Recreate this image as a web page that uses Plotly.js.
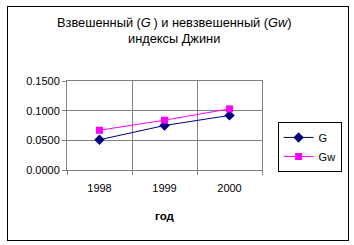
<!DOCTYPE html>
<html>
<head>
<meta charset="utf-8">
<script src="https://cdn.plot.ly/plotly-3.0.1.min.js"></script>
<style>
html,body{margin:0;padding:0;background:#fff;}
#chart{width:354px;height:245px;position:relative;}
#frame{position:absolute;left:7px;top:6px;width:340px;height:233px;border:1px solid #000;pointer-events:none;}
</style>
</head>
<body>
<div id="chart"></div>
<div id="frame"></div>
<script>
var years = ["1998", "1999", "2000"];
var gValues = [0.051, 0.075, 0.092];
var gwValues = [0.067, 0.084, 0.103];
var yTicks = [0, 0.05, 0.10, 0.15];
var titleLines = ["Взвешенный (<i>G</i>&#8201;) и невзвешенный (<i>Gw</i>)", "индексы Джини"];

var font = "Liberation Sans, Arial, sans-serif";

var traces = [
  {
    x: years, y: gValues, name: "G", type: "scatter", mode: "lines+markers",
    line: {color: "#000080", width: 1},
    marker: {symbol: "diamond", size: 8, color: "#000080"}
  },
  {
    x: years, y: gwValues, name: "Gw", type: "scatter", mode: "lines+markers",
    line: {color: "#FF00FF", width: 1},
    marker: {symbol: "square", size: 7, color: "#FF00FF"}
  }
];

var layout = {
  width: 354, height: 245,
  margin: {l: 67, r: 88, t: 81, b: 75},
  paper_bgcolor: "#fff", plot_bgcolor: "#fff",
  font: {family: font, size: 11, color: "#000"},
  showlegend: true,
  annotations: [
    {text: titleLines[0], xref: "paper", yref: "paper", x: 0.55, y: 1.66,
     xanchor: "center", yanchor: "middle", showarrow: false,
     font: {family: font, size: 12.8, color: "#000"}},
    {text: titleLines[1], xref: "paper", yref: "paper", x: 0.55, y: 1.475,
     xanchor: "center", yanchor: "middle", showarrow: false,
     font: {family: font, size: 12.8, color: "#000"}}
  ],
  xaxis: {
    type: "category",
    range: [-0.5, 2.5],
    tickson: "boundaries",
    ticks: "outside", ticklen: 4, tickcolor: "#808080",
    ticklabelstandoff: 8,
    showgrid: true, gridcolor: "#808080", gridwidth: 1,
    showline: true, linecolor: "#808080", linewidth: 1,
    mirror: true,
    tickfont: {family: font, size: 11},
    title: {text: "<b>год</b>", font: {family: font, size: 11.5}, standoff: 18},
    fixedrange: true
  },
  yaxis: {
    range: [0, 0.15],
    tickvals: yTicks,
    tickformat: ".4f",
    ticks: "outside", ticklen: 4, tickcolor: "#808080",
    showgrid: true, gridcolor: "#808080", gridwidth: 1,
    showline: true, linecolor: "#808080", linewidth: 1,
    mirror: true,
    zeroline: false,
    tickfont: {family: font, size: 11},
    fixedrange: true
  },
  legend: {
    x: 1.08, xanchor: "left", xref: "paper",
    y: 0.54, yanchor: "top", yref: "paper",
    bordercolor: "#000", borderwidth: 1, bgcolor: "#fff",
    font: {family: font, size: 11},
    itemwidth: 30, tracegroupgap: 4
  }
};

Plotly.newPlot("chart", traces, layout, {displayModeBar: false, staticPlot: true});
</script>
</body>
</html>
